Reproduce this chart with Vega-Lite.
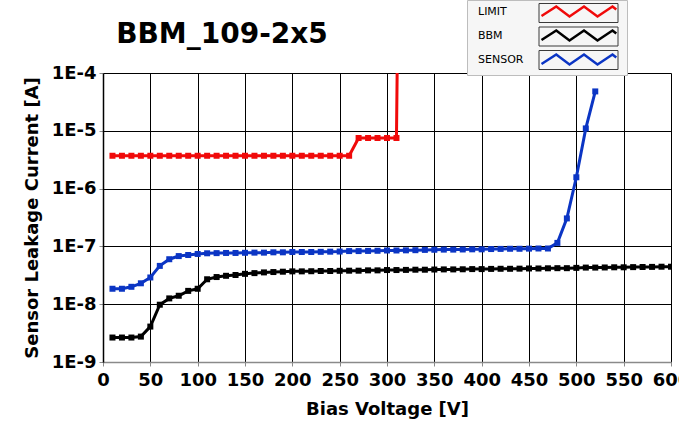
{
  "$schema": "https://vega.github.io/schema/vega-lite/v6.json",
  "width": 568,
  "height": 289,
  "autosize": {"type": "none"},
  "padding": {"left": 103, "top": 73, "right": 8, "bottom": 63},
  "background": "white",
  "title": {
    "text": "BBM_109-2x5",
    "anchor": "start",
    "dx": 93,
    "dy": 71,
    "offset": 0,
    "baseline": "alphabetic",
    "font": "DejaVu Sans",
    "fontSize": 28,
    "fontWeight": "bold",
    "color": "black"
  },
  "data": {
    "values": [
      {"series": "LIMIT", "v": 10, "i": 3.7e-6}, {"series": "LIMIT", "v": 20, "i": 3.7e-6}, {"series": "LIMIT", "v": 30, "i": 3.7e-6}, {"series": "LIMIT", "v": 40, "i": 3.7e-6}, {"series": "LIMIT", "v": 50, "i": 3.7e-6}, {"series": "LIMIT", "v": 60, "i": 3.7e-6}, {"series": "LIMIT", "v": 70, "i": 3.7e-6}, {"series": "LIMIT", "v": 80, "i": 3.7e-6}, {"series": "LIMIT", "v": 90, "i": 3.7e-6}, {"series": "LIMIT", "v": 100, "i": 3.7e-6}, {"series": "LIMIT", "v": 110, "i": 3.7e-6}, {"series": "LIMIT", "v": 120, "i": 3.7e-6}, {"series": "LIMIT", "v": 130, "i": 3.7e-6}, {"series": "LIMIT", "v": 140, "i": 3.7e-6}, {"series": "LIMIT", "v": 150, "i": 3.7e-6}, {"series": "LIMIT", "v": 160, "i": 3.7e-6}, {"series": "LIMIT", "v": 170, "i": 3.7e-6}, {"series": "LIMIT", "v": 180, "i": 3.7e-6}, {"series": "LIMIT", "v": 190, "i": 3.7e-6}, {"series": "LIMIT", "v": 200, "i": 3.7e-6}, {"series": "LIMIT", "v": 210, "i": 3.7e-6}, {"series": "LIMIT", "v": 220, "i": 3.7e-6}, {"series": "LIMIT", "v": 230, "i": 3.7e-6}, {"series": "LIMIT", "v": 240, "i": 3.7e-6}, {"series": "LIMIT", "v": 250, "i": 3.7e-6}, {"series": "LIMIT", "v": 260, "i": 3.7e-6},
      {"series": "LIMIT", "v": 270, "i": 7.5e-6}, {"series": "LIMIT", "v": 280, "i": 7.5e-6}, {"series": "LIMIT", "v": 290, "i": 7.5e-6}, {"series": "LIMIT", "v": 300, "i": 7.5e-6}, {"series": "LIMIT", "v": 310, "i": 7.5e-6}, {"series": "LIMIT", "v": 312, "i": 1e-2},
      {"series": "BBM", "v": 10, "i": 2.65e-9}, {"series": "BBM", "v": 20, "i": 2.65e-9}, {"series": "BBM", "v": 30, "i": 2.65e-9}, {"series": "BBM", "v": 40, "i": 2.75e-9}, {"series": "BBM", "v": 50, "i": 4.1e-9}, {"series": "BBM", "v": 60, "i": 9.8e-9}, {"series": "BBM", "v": 70, "i": 1.26e-8}, {"series": "BBM", "v": 80, "i": 1.4e-8}, {"series": "BBM", "v": 90, "i": 1.7e-8}, {"series": "BBM", "v": 100, "i": 1.85e-8},
      {"series": "BBM", "v": 110, "i": 2.7e-8}, {"series": "BBM", "v": 120, "i": 2.95e-8}, {"series": "BBM", "v": 130, "i": 3.1e-8}, {"series": "BBM", "v": 140, "i": 3.2e-8}, {"series": "BBM", "v": 150, "i": 3.35e-8}, {"series": "BBM", "v": 160, "i": 3.45e-8}, {"series": "BBM", "v": 170, "i": 3.55e-8}, {"series": "BBM", "v": 180, "i": 3.6e-8}, {"series": "BBM", "v": 190, "i": 3.65e-8}, {"series": "BBM", "v": 200, "i": 3.7e-8},
      {"series": "BBM", "v": 210, "i": 3.7e-8}, {"series": "BBM", "v": 220, "i": 3.72e-8}, {"series": "BBM", "v": 230, "i": 3.75e-8}, {"series": "BBM", "v": 240, "i": 3.75e-8}, {"series": "BBM", "v": 250, "i": 3.78e-8}, {"series": "BBM", "v": 260, "i": 3.8e-8}, {"series": "BBM", "v": 270, "i": 3.8e-8}, {"series": "BBM", "v": 280, "i": 3.85e-8}, {"series": "BBM", "v": 290, "i": 3.85e-8}, {"series": "BBM", "v": 300, "i": 3.9e-8},
      {"series": "BBM", "v": 310, "i": 3.9e-8}, {"series": "BBM", "v": 320, "i": 3.92e-8}, {"series": "BBM", "v": 330, "i": 3.95e-8}, {"series": "BBM", "v": 340, "i": 3.95e-8}, {"series": "BBM", "v": 350, "i": 3.98e-8}, {"series": "BBM", "v": 360, "i": 4.0e-8}, {"series": "BBM", "v": 370, "i": 4.0e-8}, {"series": "BBM", "v": 380, "i": 4.02e-8}, {"series": "BBM", "v": 390, "i": 4.05e-8}, {"series": "BBM", "v": 400, "i": 4.05e-8},
      {"series": "BBM", "v": 410, "i": 4.08e-8}, {"series": "BBM", "v": 420, "i": 4.1e-8}, {"series": "BBM", "v": 430, "i": 4.1e-8}, {"series": "BBM", "v": 440, "i": 4.12e-8}, {"series": "BBM", "v": 450, "i": 4.15e-8}, {"series": "BBM", "v": 460, "i": 4.15e-8}, {"series": "BBM", "v": 470, "i": 4.18e-8}, {"series": "BBM", "v": 480, "i": 4.2e-8}, {"series": "BBM", "v": 490, "i": 4.2e-8}, {"series": "BBM", "v": 500, "i": 4.25e-8},
      {"series": "BBM", "v": 510, "i": 4.3e-8}, {"series": "BBM", "v": 520, "i": 4.3e-8}, {"series": "BBM", "v": 530, "i": 4.32e-8}, {"series": "BBM", "v": 540, "i": 4.35e-8}, {"series": "BBM", "v": 550, "i": 4.35e-8}, {"series": "BBM", "v": 560, "i": 4.38e-8}, {"series": "BBM", "v": 570, "i": 4.4e-8}, {"series": "BBM", "v": 580, "i": 4.42e-8}, {"series": "BBM", "v": 590, "i": 4.45e-8}, {"series": "BBM", "v": 600, "i": 4.45e-8},
      {"series": "SENSOR", "v": 10, "i": 1.85e-8}, {"series": "SENSOR", "v": 20, "i": 1.85e-8}, {"series": "SENSOR", "v": 30, "i": 2.0e-8}, {"series": "SENSOR", "v": 40, "i": 2.3e-8}, {"series": "SENSOR", "v": 50, "i": 2.9e-8}, {"series": "SENSOR", "v": 60, "i": 4.6e-8}, {"series": "SENSOR", "v": 70, "i": 6.0e-8}, {"series": "SENSOR", "v": 80, "i": 6.8e-8}, {"series": "SENSOR", "v": 90, "i": 7.1e-8}, {"series": "SENSOR", "v": 100, "i": 7.4e-8},
      {"series": "SENSOR", "v": 110, "i": 7.6e-8}, {"series": "SENSOR", "v": 120, "i": 7.65e-8}, {"series": "SENSOR", "v": 130, "i": 7.7e-8}, {"series": "SENSOR", "v": 140, "i": 7.7e-8}, {"series": "SENSOR", "v": 150, "i": 7.75e-8}, {"series": "SENSOR", "v": 160, "i": 7.8e-8}, {"series": "SENSOR", "v": 170, "i": 7.8e-8}, {"series": "SENSOR", "v": 180, "i": 7.9e-8}, {"series": "SENSOR", "v": 190, "i": 7.9e-8}, {"series": "SENSOR", "v": 200, "i": 8.0e-8},
      {"series": "SENSOR", "v": 210, "i": 8.0e-8}, {"series": "SENSOR", "v": 220, "i": 8.0e-8}, {"series": "SENSOR", "v": 230, "i": 8.05e-8}, {"series": "SENSOR", "v": 240, "i": 8.1e-8}, {"series": "SENSOR", "v": 250, "i": 8.15e-8}, {"series": "SENSOR", "v": 260, "i": 8.3e-8}, {"series": "SENSOR", "v": 270, "i": 8.3e-8}, {"series": "SENSOR", "v": 280, "i": 8.35e-8}, {"series": "SENSOR", "v": 290, "i": 8.4e-8}, {"series": "SENSOR", "v": 300, "i": 8.5e-8},
      {"series": "SENSOR", "v": 310, "i": 8.5e-8}, {"series": "SENSOR", "v": 320, "i": 8.55e-8}, {"series": "SENSOR", "v": 330, "i": 8.6e-8}, {"series": "SENSOR", "v": 340, "i": 8.7e-8}, {"series": "SENSOR", "v": 350, "i": 8.75e-8}, {"series": "SENSOR", "v": 360, "i": 8.8e-8}, {"series": "SENSOR", "v": 370, "i": 8.8e-8}, {"series": "SENSOR", "v": 380, "i": 8.85e-8}, {"series": "SENSOR", "v": 390, "i": 8.9e-8}, {"series": "SENSOR", "v": 400, "i": 8.9e-8},
      {"series": "SENSOR", "v": 410, "i": 9.0e-8}, {"series": "SENSOR", "v": 420, "i": 9.05e-8}, {"series": "SENSOR", "v": 430, "i": 9.1e-8}, {"series": "SENSOR", "v": 440, "i": 9.1e-8}, {"series": "SENSOR", "v": 450, "i": 9.15e-8}, {"series": "SENSOR", "v": 460, "i": 9.2e-8}, {"series": "SENSOR", "v": 470, "i": 9.2e-8}, {"series": "SENSOR", "v": 480, "i": 1.15e-7}, {"series": "SENSOR", "v": 490, "i": 3.05e-7}, {"series": "SENSOR", "v": 500, "i": 1.57e-6},
      {"series": "SENSOR", "v": 510, "i": 1.1e-5}, {"series": "SENSOR", "v": 520, "i": 4.8e-5}
    ]
  },
  "encoding": {
    "x": {
      "field": "v",
      "type": "quantitative",
      "scale": {"domain": [0, 600], "nice": false, "zero": false},
      "axis": {
        "title": "Bias Voltage [V]",
        "values": [0, 50, 100, 150, 200, 250, 300, 350, 400, 450, 500, 550, 600],
        "labelFlush": false,
        "labelPadding": 5,
        "titlePadding": 11
      }
    },
    "y": {
      "field": "i",
      "type": "quantitative",
      "scale": {"type": "log", "domain": [1e-9, 1e-4], "nice": false},
      "axis": {
        "title": "Sensor Leakage Current [A]",
        "values": [1e-9, 1e-8, 1e-7, 1e-6, 1e-5, 1e-4],
        "labelExpr": "'1E' + round(log(datum.value) / LN10)",
        "labelFlush": false,
        "labelPadding": 3,
        "titlePadding": 10,
        "domainColor": "black"
      }
    }
  },
  "layer": [
    {
      "mark": {"type": "line", "clip": true, "strokeWidth": 3},
      "encoding": {
        "stroke": {
          "field": "series",
          "type": "nominal",
          "scale": {"domain": ["LIMIT", "BBM", "SENSOR"], "range": ["#f00a0a", "#000000", "#0b35c4"]},
          "legend": {
            "title": null,
            "orient": "none",
            "legendX": 364,
            "legendY": -73,
            "symbolType": "M-7.4,0.9L-4.45,-1L-1.8,1L1.1,-1L3.8,1L6.8,-1L7.56,-0.4",
            "symbolSize": 100,
            "symbolOffset": 100,
            "symbolStrokeWidth": 2.5,
            "symbolFillColor": "transparent",
            "symbolOpacity": 1,
            "rowPadding": 3,
            "labelFont": "DejaVu Sans",
            "labelFontSize": 11,
            "labelColor": "black",
            "labelAlign": "left",
            "labelOffset": -107,
            "padding": 5,
            "fillColor": "#f6f6f6",
            "strokeColor": "#bdbdbd",
            "encode": {
              "symbols": {"update": {"fill": {"value": "transparent"}, "fillOpacity": {"value": 0}}}
            }
          }
        }
      }
    },
    {
      "mark": {"type": "point", "shape": "square", "size": 36, "filled": true, "clip": true},
      "encoding": {
        "fill": {
          "field": "series",
          "type": "nominal",
          "scale": {"domain": ["LIMIT", "BBM", "SENSOR"], "range": ["#f00a0a", "#000000", "#0b35c4"]},
          "legend": null
        },
        "opacity": {
          "field": "series",
          "type": "nominal",
          "scale": {"domain": ["LIMIT", "BBM", "SENSOR", "—"], "range": [1, 1]},
          "legend": {
            "title": null,
            "values": ["LIMIT", "BBM", "SENSOR"],
            "orient": "none",
            "legendX": 364,
            "legendY": -71.5,
            "symbolType": "M-7.9,-1.9H7.9V1.9H-7.9Z",
            "symbolSize": 100,
            "symbolOffset": 100,
            "symbolStrokeWidth": 1,
            "symbolFillColor": "transparent",
            "symbolStrokeColor": "#3a3a3a",
            "rowPadding": 0.5,
            "labelFont": "DejaVu Sans",
            "labelFontSize": 13,
            "labelOpacity": 0,
            "labelAlign": "left",
            "labelOffset": -107,
            "padding": 5
          }
        }
      }
    }
  ],
  "config": {
    "font": "DejaVu Sans",
    "view": {"stroke": null},
    "axis": {
      "grid": true,
      "gridColor": "black",
      "gridOpacity": 1,
      "gridWidth": 1,
      "domainColor": "#8a8a8a",
      "domainWidth": 1.5,
      "tickColor": "#8a8a8a",
      "tickSize": 4,
      "labelFont": "DejaVu Sans",
      "labelFontSize": 18,
      "labelFontWeight": "bold",
      "labelColor": "black",
      "titleFont": "DejaVu Sans",
      "titleFontSize": 18,
      "titleFontWeight": "bold",
      "titleColor": "black"
    }
  }
}
